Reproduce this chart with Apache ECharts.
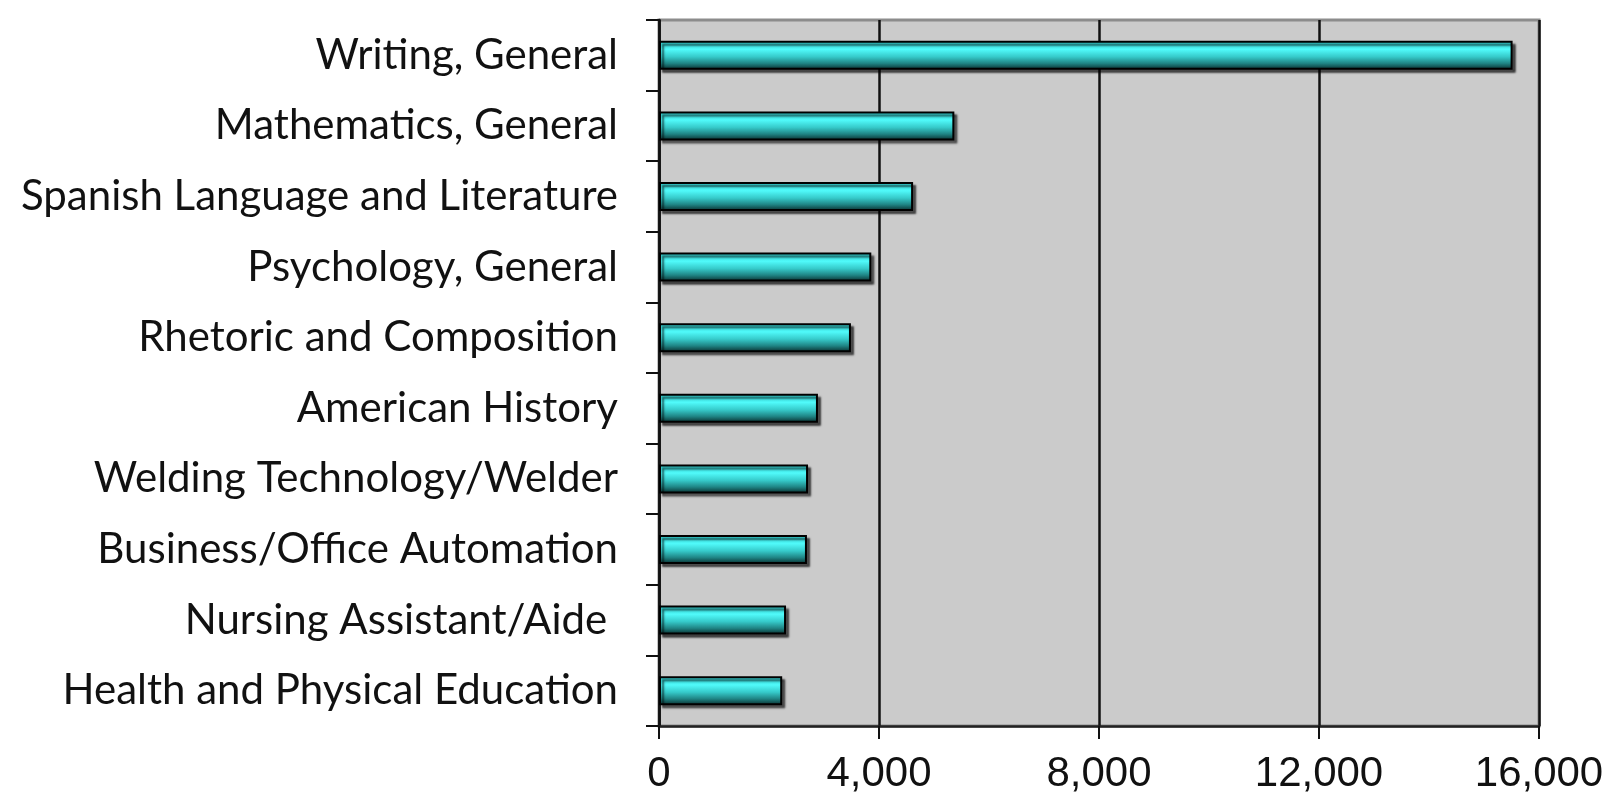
<!DOCTYPE html>
<html>
<head>
<meta charset="utf-8">
<script src="https://cdn.jsdelivr.net/npm/echarts@6/dist/echarts.min.js"></script>
<style>
  html, body { margin: 0; padding: 0; background: #fff; }
  #chart { width: 1617px; height: 800px; }
</style>
</head>
<body>
<div id="chart"></div>
<script>
// programs, top to bottom
const categories = [
  'Writing, General',
  'Mathematics, General',
  'Spanish Language and Literature',
  'Psychology, General',
  'Rhetoric and Composition',
  'American History',
  'Welding Technology/Welder',
  'Business/Office Automation',
  'Nursing Assistant/Aide ',
  'Health and Physical Education'
]
const values = [15520, 5370, 4620, 3860, 3490, 2890, 2710, 2690, 2310, 2240]
const xTicks = [0, 4000, 8000, 12000, 16000]

const chart = echarts.init(document.getElementById('chart'))

// cylinder-ish shading like the old excel bars
const barColor = new echarts.graphic.LinearGradient(0, 0, 0, 1, [
  { offset: 0, color: '#2cc8c8' },
  { offset: 0.3, color: '#50fafa' },
  { offset: 0.55, color: '#36caca' },
  { offset: 0.78, color: '#1f8484' },
  { offset: 1, color: '#082a2a' },
])

const options = {
  animation: false,
  grid: {
    left: 659,
    right: 78,
    top: 20,
    bottom: 74,
    show: true,
    backgroundColor: '#cbcbcb',
    borderColor: '#8c8c8c',
    borderWidth: 3,
  },
  xAxis: {
    type: 'value',
    min: xTicks[0],
    max: xTicks[xTicks.length - 1],
    interval: 4000,
    axisLine: { show: true, lineStyle: { color: '#222', width: 2.5 } },
    axisTick: { show: true, length: 13, lineStyle: { color: '#111', width: 2 } },
    axisLabel: {
      margin: 27,
      fontFamily: 'Liberation Sans',
      fontSize: 42,
      color: '#111',
      formatter: (v) => v.toLocaleString('en-US'),
    },
    splitLine: {
      show: true,
      lineStyle: { color: '#111', width: 2.5 },
    },
  },
  yAxis: {
    type: 'category',
    data: categories,
    inverse: true,
    axisLine: { show: true, lineStyle: { color: '#111', width: 2.5 } },
    axisTick: { show: true, length: 13, lineStyle: { color: '#111', width: 2 } },
    axisLabel: {
      margin: 41,
      fontFamily: 'Lato',
      fontSize: 42,
      color: '#111',
    },
  },
  series: [
    {
      type: 'bar',
      data: values,
      barWidth: 29,
      itemStyle: {
        color: barColor,
        borderColor: '#000',
        borderWidth: 2,
        shadowColor: 'rgba(0,0,0,0.6)',
        shadowOffsetX: 3,
        shadowOffsetY: 3,
        shadowBlur: 2,
      },
    },
  ],
}

chart.setOption(options)
</script>
</body>
</html>
